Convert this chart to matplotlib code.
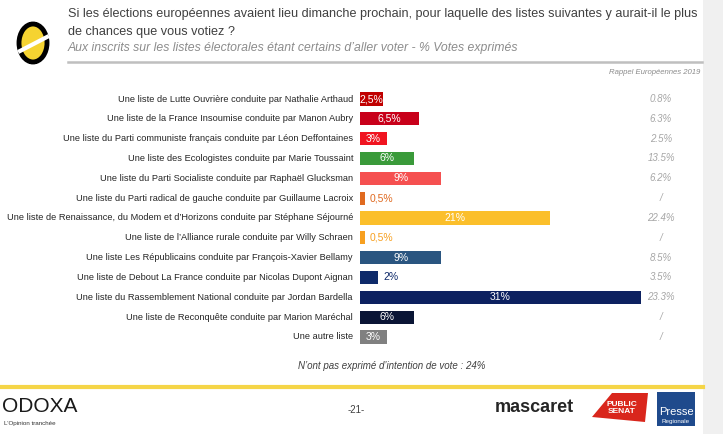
import matplotlib
matplotlib.use("Agg")
import matplotlib.pyplot as plt
from matplotlib.transforms import blended_transform_factory
from matplotlib.patches import Rectangle, Ellipse, Polygon

plt.rcParams['font.family'] = ['Liberation Sans', 'DejaVu Sans']

# données
labels = [
    "Une liste de Lutte Ouvrière conduite par Nathalie Arthaud",
    "Une liste de la France Insoumise conduite par Manon Aubry",
    "Une liste du Parti communiste français conduite par Léon Deffontaines",
    "Une liste des Ecologistes conduite par Marie Toussaint",
    "Une liste du Parti Socialiste conduite par Raphaël Glucksman",
    "Une liste du Parti radical de gauche conduite par Guillaume Lacroix",
    "Une liste de Renaissance, du Modem et d\u2019Horizons conduite par Stéphane Séjourné",
    "Une liste de l\u2019Alliance rurale conduite par Willy Schraen",
    "Une liste Les Républicains conduite par François-Xavier Bellamy",
    "Une liste de Debout La France conduite par Nicolas Dupont Aignan",
    "Une liste du Rassemblement National conduite par Jordan Bardella",
    "Une liste de Reconquête conduite par Marion Maréchal",
    "Une autre liste",
]
values = [2.5, 6.5, 3, 6, 9, 0.5, 21, 0.5, 9, 2, 31, 6, 3]
value_text = ["2,5%", "6,5%", "3%", "6%", "9%", "0,5%", "21%", "0,5%", "9%", "2%", "31%", "6%", "3%"]
rappel = ["0.8%", "6.3%", "2.5%", "13.5%", "6.2%", "/", "22.4%", "/", "8.5%", "3.5%", "23.3%", "/", "/"]
colors = ["#C00000", "#C8001A", "#F01420", "#3A9A3A", "#F55050", "#E06A20", "#FBBF2B",
          "#F7A020", "#2A5580", "#0E2A6A", "#0D2160", "#0A1535", "#808080"]
outside = [False, False, False, False, False, True, False, True, False, True, False, False, False]

W, H = 723, 434
fig = plt.figure(figsize=(7.23, 4.34), dpi=100)
fig.patch.set_facecolor("white")

def fx(px):
    return px / W

def fy(py):
    return 1 - py / H

# bande grise à droite
fig.patches.append(Rectangle((fx(703), 0), fx(20), 1, transform=fig.transFigure,
                             facecolor="#F0F0F0", edgecolor="none", zorder=0))

# graphique
row = 19.83
top = 99 - row / 2
ax = fig.add_axes([fx(360), fy(top + 13 * row), fx(340), 13 * row / H])
n = len(values)
y = list(range(n))
ax.barh(y, values, height=0.66, color=colors, left=0)
ax.set_xlim(0, 340 / 9.05)
ax.set_ylim(n - 0.5, -0.5)
ax.axis("off")

tr = blended_transform_factory(fig.transFigure, ax.transData)
for i in range(n):
    if outside[i]:
        ax.text(values[i] + 0.6, i, value_text[i], ha="left", va="center",
                fontsize=7.5, color=colors[i])
    else:
        ax.text(values[i] / 2, i, value_text[i], ha="center", va="center",
                fontsize=7.5, color="white")
    ax.text(fx(661), i, rappel[i], ha="center", va="center", fontsize=7,
            style="italic", color="#A6A6A6", transform=tr)
    ax.text(fx(353), i, labels[i], ha="right", va="center", fontsize=6.7,
            color="#262626", transform=tr)

# titre
fig.text(fx(68), fy(14), "Si les élections européennes avaient lieu dimanche prochain, pour laquelle des listes suivantes y aurait-il le plus",
         fontsize=9.1, color="#404040", va="center")
fig.text(fx(68), fy(32), "de chances que vous votiez ?", fontsize=9.1, color="#404040", va="center")
fig.text(fx(68), fy(48), "Aux inscrits sur les listes électorales étant certains d\u2019aller voter - % Votes exprimés",
         fontsize=8.8, color="#8C8C8C", style="italic", va="center")
fig.add_artist(plt.Line2D([fx(68), fx(702)], [fy(62), fy(62)], color="#BFBFBF", lw=1.8))
fig.text(fx(700), fy(72), "Rappel Européennes 2019", fontsize=5.6, color="#8C8C8C",
         style="italic", ha="right", va="center")

# logo
fig.patches.append(Ellipse((fx(33), fy(43)), fx(28), 38 / H, transform=fig.transFigure,
                           facecolor="#F5D331", edgecolor="black", lw=3.5, zorder=3))
fig.add_artist(plt.Line2D([fx(20), fx(47)], [fy(51), fy(37)], color="white", lw=3, zorder=4))
fig.patches.append(Rectangle((fx(29), fy(26)), fx(8), 4 / H, transform=fig.transFigure,
                             facecolor="black", zorder=4))
fig.patches.append(Rectangle((fx(29), fy(64)), fx(8), 4 / H, transform=fig.transFigure,
                             facecolor="black", zorder=4))

# note
fig.text(fx(392), fy(366), "N\u2019ont pas exprimé d\u2019intention de vote : 24%", fontsize=7,
         style="italic", color="#404040", ha="center", va="center")

# pied de page
fig.add_artist(plt.Line2D([0, fx(703)], [fy(387), fy(387)], color="#F5D547", lw=3))
fig.text(fx(2), fy(406), "ODOXA", fontsize=15, color="#1A1A1A", va="center")
fig.text(fx(4), fy(423), "L\u2019Opinion tranchée", fontsize=4.5, color="#333333", va="center")
fig.text(fx(348), fy(410), "-21-", fontsize=7, color="#404040", va="center")
fig.text(fx(495), fy(408), "mascaret", fontsize=13, weight="bold", color="#262626", va="center")
fig.patches.append(Polygon([(fx(592), fy(417)), (fx(612), fy(393)), (fx(648), fy(393)),
                            (fx(645), fy(422))], closed=True, transform=fig.transFigure,
                           facecolor="#D9261C", edgecolor="none"))
fig.text(fx(622), fy(408), "PUBLIC\nSENAT", fontsize=6, color="white", weight="bold",
         ha="center", va="center", linespacing=0.9)
fig.patches.append(Rectangle((fx(657), fy(426)), fx(38), 34 / H, transform=fig.transFigure,
                             facecolor="#1F4A8C", edgecolor="none"))
fig.text(fx(676), fy(412), "Presse", fontsize=8, color="white", ha="center", va="center")
fig.text(fx(676), fy(421), "Regionale", fontsize=4.5, color="white", ha="center", va="center")

fig.savefig("out.png", dpi=100)
